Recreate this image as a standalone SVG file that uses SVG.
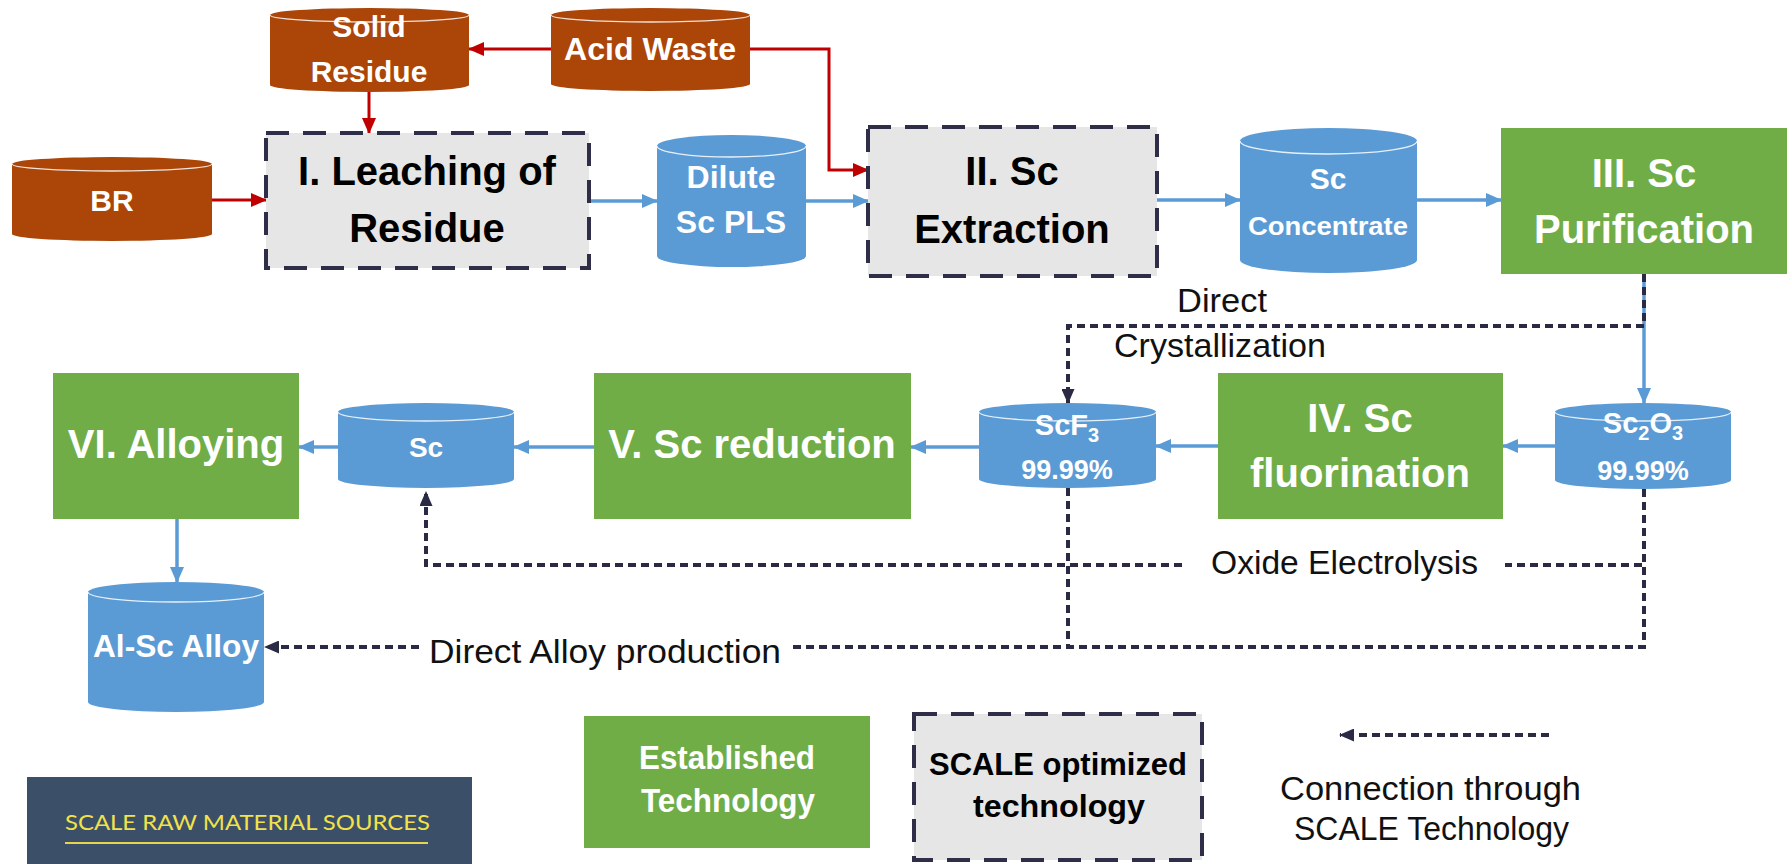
<svg xmlns="http://www.w3.org/2000/svg" width="1792" height="864" viewBox="0 0 1792 864">
<defs>
<style>
.t{font-family:"Liberation Sans",Arial,sans-serif}
.b{font-weight:bold}
.w{fill:#fff}
.k{fill:#000}
.n{fill:#111}
.brown{fill:#AB4508}
.blue{fill:#5B9BD5}
.green{fill:#70AD47}
.gray{fill:#E7E6E6;stroke:#2E2E48;stroke-width:4;stroke-dasharray:23 14}
.rim{fill:none;stroke:#fff;stroke-width:1.3;opacity:.85}
.red{stroke:#C00000;stroke-width:3;fill:none}
.bl{stroke:#5B9BD5;stroke-width:3.5;fill:none}
.dd{stroke:#2A2A45;stroke-width:4;fill:none;stroke-dasharray:8 5}
</style>
<marker id="ar" markerUnits="userSpaceOnUse" markerWidth="16" markerHeight="14" refX="15" refY="7" orient="auto" viewBox="0 0 16 14"><path d="M0,0 L16,7 L0,14 z" fill="#C00000"/></marker>
<marker id="ab" markerUnits="userSpaceOnUse" markerWidth="16" markerHeight="14" refX="15" refY="7" orient="auto" viewBox="0 0 16 14"><path d="M0,0 L16,7 L0,14 z" fill="#5B9BD5"/></marker>
<marker id="ad" markerUnits="userSpaceOnUse" markerWidth="15" markerHeight="13" refX="14" refY="6.5" orient="auto" viewBox="0 0 15 13"><path d="M0,0 L15,6.5 L0,13 z" fill="#2A2A45"/></marker>
</defs>
<rect width="1792" height="864" fill="#fff"/>

<g id="connectors">
  <path class="red" d="M551,49 H469" marker-end="url(#ar)"/>
  <path class="red" d="M369,92 V133" marker-end="url(#ar)"/>
  <path class="red" d="M212,200 H266" marker-end="url(#ar)"/>
  <path class="red" d="M750,49 H829 V170 H868" marker-end="url(#ar)"/>
  <path class="bl" d="M589,201 H657" marker-end="url(#ab)"/>
  <path class="bl" d="M806,201 H868" marker-end="url(#ab)"/>
  <path class="bl" d="M1157,200 H1240" marker-end="url(#ab)"/>
  <path class="bl" d="M1417,200 H1501" marker-end="url(#ab)"/>
  <path class="bl" d="M1644,274 V403" marker-end="url(#ab)"/>
  <path class="bl" d="M1555,446 H1503" marker-end="url(#ab)"/>
  <path class="bl" d="M1218,446 H1156" marker-end="url(#ab)"/>
  <path class="bl" d="M979,447 H911" marker-end="url(#ab)"/>
  <path class="bl" d="M594,447 H514" marker-end="url(#ab)"/>
  <path class="bl" d="M338,447 H299" marker-end="url(#ab)"/>
  <path class="bl" d="M177,519 V582" marker-end="url(#ab)"/>
  <path class="dd" d="M1644,274 V326 H1068 V403" marker-end="url(#ad)"/>
  <path class="dd" d="M1644,489 V565 H1505 M1182,565 H426 V492" marker-end="url(#ad)"/>
  <path class="dd" d="M1644,489 V647 H791 M419,647 H265" marker-end="url(#ad)"/>
  <path class="dd" d="M1068,488 V647"/>
  <path class="dd" d="M1549,735 H1340" marker-end="url(#ad)"/>
</g>

<g id="solid-residue">
  <path class="brown" d="M270,15 A99.5,7 0 0 1 469,15 V85 A99.5,7 0 0 1 270,85 Z"/>
  <path class="rim" d="M270,15 A99.5,7 0 0 0 469,15"/>
  <text class="t b w" x="369" y="37" font-size="30" text-anchor="middle">Solid</text>
  <text class="t b w" x="369" y="82" font-size="30" text-anchor="middle">Residue</text>
</g>
<g id="acid-waste">
  <path class="brown" d="M551,15 A99.5,7 0 0 1 750,15 V84 A99.5,7 0 0 1 551,84 Z"/>
  <path class="rim" d="M551,15 A99.5,7 0 0 0 750,15"/>
  <text class="t b w" x="650" y="60" font-size="32" text-anchor="middle" textLength="172" lengthAdjust="spacingAndGlyphs">Acid Waste</text>
</g>
<g id="br">
  <path class="brown" d="M12,164 A100,7 0 0 1 212,164 V234 A100,7 0 0 1 12,234 Z"/>
  <path class="rim" d="M12,164 A100,7 0 0 0 212,164"/>
  <text class="t b w" x="112" y="211" font-size="30" text-anchor="middle">BR</text>
</g>
<g id="leaching">
  <rect class="gray" x="266" y="133" width="323" height="135"/>
  <text class="t b k" x="427" y="185" font-size="40" text-anchor="middle">I. Leaching of</text>
  <text class="t b k" x="427" y="242" font-size="40" text-anchor="middle">Residue</text>
</g>
<g id="dilute-pls">
  <path class="blue" d="M657,146 A74.5,11 0 0 1 806,146 V256 A74.5,11 0 0 1 657,256 Z"/>
  <path class="rim" d="M657,146 A74.5,11 0 0 0 806,146"/>
  <text class="t b w" x="731" y="188" font-size="32" text-anchor="middle">Dilute</text>
  <text class="t b w" x="731" y="233" font-size="32" text-anchor="middle">Sc PLS</text>
</g>
<g id="extraction">
  <rect class="gray" x="868" y="127" width="289" height="149"/>
  <text class="t b k" x="1012" y="185" font-size="40" text-anchor="middle">II. Sc</text>
  <text class="t b k" x="1012" y="243" font-size="40" text-anchor="middle">Extraction</text>
</g>
<g id="sc-concentrate">
  <path class="blue" d="M1240,141 A88.5,13 0 0 1 1417,141 V260 A88.5,13 0 0 1 1240,260 Z"/>
  <path class="rim" d="M1240,141 A88.5,13 0 0 0 1417,141"/>
  <text class="t b w" x="1328" y="189" font-size="30" text-anchor="middle">Sc</text>
  <text class="t b w" x="1328" y="235" font-size="25" text-anchor="middle" textLength="160" lengthAdjust="spacingAndGlyphs">Concentrate</text>
</g>
<g id="purification">
  <rect class="green" x="1501" y="128" width="286" height="146"/>
  <text class="t b w" x="1644" y="187" font-size="40" text-anchor="middle">III. Sc</text>
  <text class="t b w" x="1644" y="243" font-size="40" text-anchor="middle">Purification</text>
</g>
<g id="sc2o3">
  <path class="blue" d="M1555,412 A88,9 0 0 1 1731,412 V480 A88,9 0 0 1 1555,480 Z"/>
  <path class="rim" d="M1555,412 A88,9 0 0 0 1731,412"/>
  <text class="t b w" x="1643" y="433" font-size="29" text-anchor="middle">Sc<tspan font-size="20" dy="7">2</tspan><tspan dy="-7">O</tspan><tspan font-size="20" dy="7">3</tspan></text>
  <text class="t b w" x="1643" y="480" font-size="27" text-anchor="middle">99.99%</text>
</g>
<g id="fluorination">
  <rect class="green" x="1218" y="373" width="285" height="146"/>
  <text class="t b w" x="1360" y="432" font-size="40" text-anchor="middle">IV. Sc</text>
  <text class="t b w" x="1360" y="487" font-size="40" text-anchor="middle">fluorination</text>
</g>
<g id="scf3">
  <path class="blue" d="M979,412 A88.5,9 0 0 1 1156,412 V479 A88.5,9 0 0 1 979,479 Z"/>
  <path class="rim" d="M979,412 A88.5,9 0 0 0 1156,412"/>
  <text class="t b w" x="1067" y="435" font-size="29" text-anchor="middle">ScF<tspan font-size="20" dy="7">3</tspan></text>
  <text class="t b w" x="1067" y="479" font-size="27" text-anchor="middle">99.99%</text>
</g>
<g id="reduction">
  <rect class="green" x="594" y="373" width="317" height="146"/>
  <text class="t b w" x="752" y="458" font-size="40" text-anchor="middle">V. Sc reduction</text>
</g>
<g id="sc">
  <path class="blue" d="M338,412 A88,9 0 0 1 514,412 V479 A88,9 0 0 1 338,479 Z"/>
  <path class="rim" d="M338,412 A88,9 0 0 0 514,412"/>
  <text class="t b w" x="426" y="457" font-size="28" text-anchor="middle">Sc</text>
</g>
<g id="alloying">
  <rect class="green" x="53" y="373" width="246" height="146"/>
  <text class="t b w" x="176" y="458" font-size="40" text-anchor="middle">VI. Alloying</text>
</g>
<g id="al-sc-alloy">
  <path class="blue" d="M88,592 A88,10 0 0 1 264,592 V702 A88,10 0 0 1 88,702 Z"/>
  <path class="rim" d="M88,592 A88,10 0 0 0 264,592"/>
  <text class="t b w" x="176" y="657" font-size="32" text-anchor="middle" textLength="166" lengthAdjust="spacingAndGlyphs">Al-Sc Alloy</text>
</g>

<g id="labels">
  <text class="t n" x="1177" y="312" font-size="33" textLength="90" lengthAdjust="spacingAndGlyphs">Direct</text>
  <text class="t n" x="1114" y="357" font-size="33" textLength="212" lengthAdjust="spacingAndGlyphs">Crystallization</text>
  <text class="t n" x="1211" y="574" font-size="33" textLength="267" lengthAdjust="spacingAndGlyphs">Oxide Electrolysis</text>
  <text class="t n" x="429" y="663" font-size="33" textLength="352" lengthAdjust="spacingAndGlyphs">Direct Alloy production</text>
</g>

<g id="legend-established">
  <rect class="green" x="584" y="716" width="286" height="132"/>
  <text class="t b w" x="727" y="769" font-size="33" text-anchor="middle" textLength="176" lengthAdjust="spacingAndGlyphs">Established</text>
  <text class="t b w" x="728" y="812" font-size="33" text-anchor="middle" textLength="174" lengthAdjust="spacingAndGlyphs">Technology</text>
</g>
<g id="legend-scale">
  <rect class="gray" x="914" y="714" width="288" height="146"/>
  <text class="t b k" x="1058" y="775" font-size="31" text-anchor="middle" textLength="258" lengthAdjust="spacingAndGlyphs">SCALE optimized</text>
  <text class="t b k" x="1059" y="817" font-size="31" text-anchor="middle" textLength="172" lengthAdjust="spacingAndGlyphs">technology</text>
</g>
<g id="legend-connection">
  <text class="t n" x="1280" y="800" font-size="33" textLength="301" lengthAdjust="spacingAndGlyphs">Connection through</text>
  <text class="t n" x="1294" y="840" font-size="33" textLength="275" lengthAdjust="spacingAndGlyphs">SCALE Technology</text>
</g>
<g id="raw-material-sources">
  <rect x="27" y="777" width="445" height="87" fill="#3B5068"/>
  <text x="65" y="830" font-family="Lato,'Liberation Sans',sans-serif" font-size="22" fill="#F2E24A" textLength="365" lengthAdjust="spacingAndGlyphs">SCALE RAW MATERIAL SOURCES</text>
  <line x1="65" y1="843" x2="428" y2="843" stroke="#E8D44A" stroke-width="2"/>
</g>
</svg>
